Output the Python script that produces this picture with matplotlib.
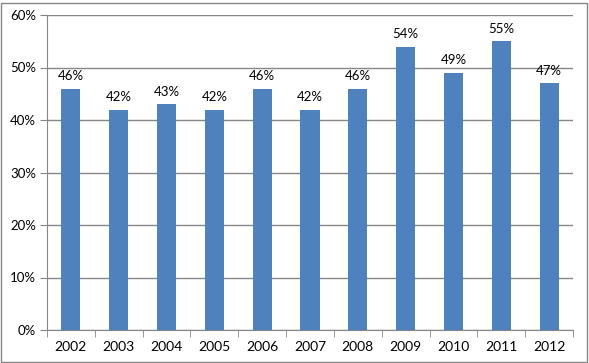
import numpy as np
import matplotlib.pyplot as plt
from matplotlib.patches import Rectangle

# year labels and share values (%)
years = ['2002', '2003', '2004', '2005', '2006', '2007',
         '2008', '2009', '2010', '2011', '2012']
share = [46, 42, 43, 42, 46, 42, 46, 54, 49, 55, 47]

plt.rcParams['font.family'] = ['Lato', 'DejaVu Sans']

fig = plt.figure(figsize=(5.89, 3.63), dpi=100)
ax = fig.add_axes([47/589, 1 - 330/363, (573-47)/589, (330-15)/363])

x = np.arange(len(years))
ax.bar(x, share, width=0.4, color='#4F81BD', zorder=3)

for xi, v in zip(x, share):
    ax.text(xi, v + 1.2, f'{v}%', ha='center', va='bottom', fontsize=9.5)

ax.set_xlim(-0.5, len(years) - 0.5)
ax.set_ylim(0, 60)
ax.set_yticks(range(0, 61, 10))
ax.set_yticklabels([f'{t}%' for t in range(0, 61, 10)], fontsize=9.5)
ax.yaxis.grid(True, color='#868686', linewidth=1, zorder=0)

ax.set_xticks(x)
ax.set_xticklabels(years, fontsize=10)
ax.set_xticks(np.arange(-0.5, len(years)), minor=True)
ax.tick_params(axis='x', which='major', length=0, pad=8)
ax.tick_params(axis='x', which='minor', length=5, color='#868686', direction='out')
ax.tick_params(axis='y', length=5, color='#868686', direction='out', pad=3)

for s in ['top', 'right']:
    ax.spines[s].set_visible(False)
for s in ['left', 'bottom']:
    ax.spines[s].set_color('#868686')

fig.patches.append(Rectangle((1/589, 1/363), 586/589, 360/363 - 1/363,
                             transform=fig.transFigure, fill=False,
                             edgecolor='#868686', linewidth=1))

fig.savefig('out.png', dpi=100)
